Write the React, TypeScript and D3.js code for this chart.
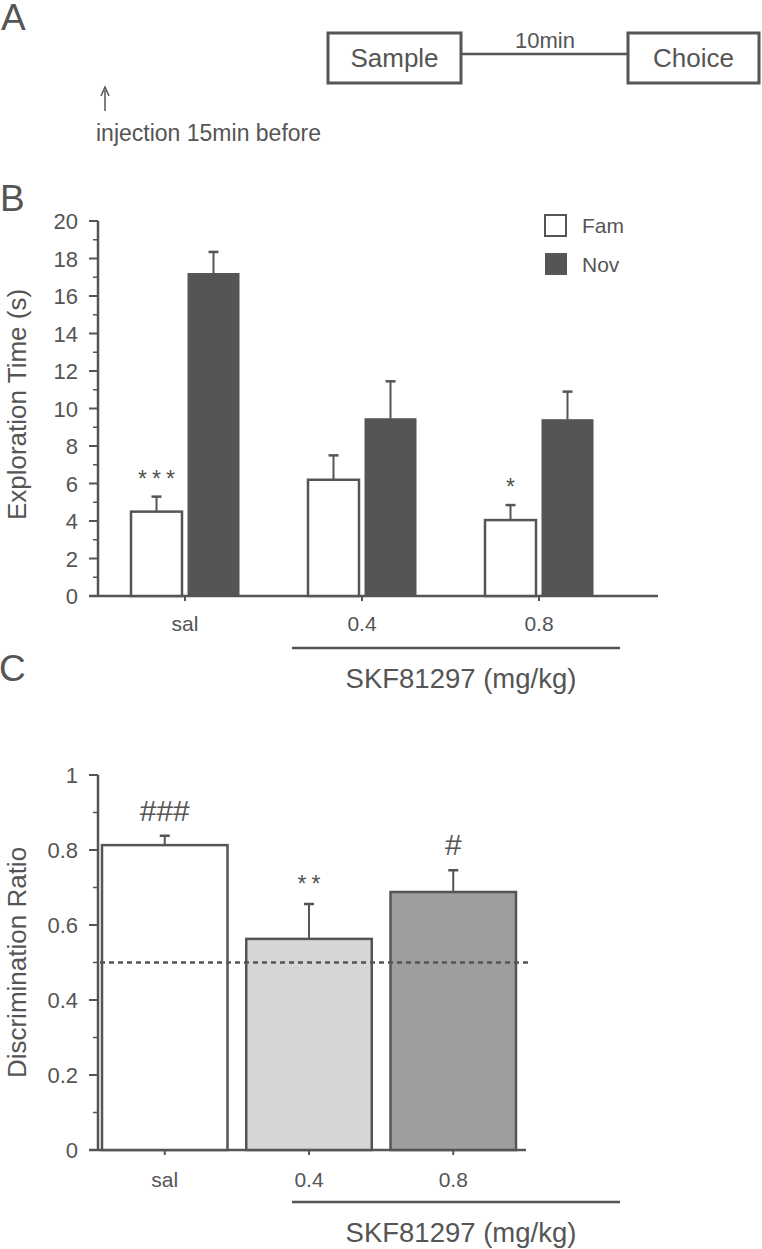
import React from "react";
import * as d3 from "d3";

// Panel B data
const groupsB = ["sal", "0.4", "0.8"];
const famMean = [4.5, 6.2, 4.05];
const famErr = [0.8, 1.3, 0.8];
const novMean = [17.2, 9.45, 9.4];
const novErr = [1.15, 2.0, 1.5];
const starsB = ["***", "", "*"];
const ticksB = [0, 2, 4, 6, 8, 10, 12, 14, 16, 18, 20];
const minorB = [1, 3, 5, 7, 9, 11, 13, 15, 17, 19];

// Panel C data
const groupsC = ["sal", "0.4", "0.8"];
const ratioMean = [0.813, 0.563, 0.688];
const ratioErr = [0.025, 0.093, 0.058];
const ratioFill = ["#ffffff", "#d6d6d6", "#9e9e9e"];
const marksC = ["###", "**", "#"];
const ticksC = [0, 0.2, 0.4, 0.6, 0.8, 1];
const minorC = [0.1, 0.3, 0.5, 0.7, 0.9];

const INK = "#555555";
const FONT = "'Liberation Sans', Arial, Helvetica, sans-serif";

export default function App() {
  const W = 762;
  const H = 1249;

  // Panel B scales
  const axB = 98;
  const yB = d3.scaleLinear().domain([0, 20]).range([596, 221]);
  const xB = d3.scalePoint<string>().domain(groupsB).range([185, 539]);
  const bwB = 51;
  const gapB = 3;

  // Panel C scales
  const axC = 98;
  const yC = d3.scaleLinear().domain([0, 1]).range([1150, 775]);
  const xC = d3.scaleBand<string>().domain(groupsC).range([102, 516]).paddingInner(0.13).paddingOuter(0);

  const errBar = (cx: number, y0: number, y1: number, key: string) => (
    <g key={key}>
      <line x1={cx} x2={cx} y1={y0} y2={y1} stroke={INK} strokeWidth={2} />
      <line x1={cx - 5} x2={cx + 5} y1={y1} y2={y1} stroke={INK} strokeWidth={2.5} />
    </g>
  );

  return (
    <svg width={W} height={H} style={{ position: "absolute", left: 0, top: 0, background: "#fff" }} fontFamily={FONT}>
      {/* Panel A */}
      <text x={1} y={30} fontSize={37} fill={INK}>A</text>
      <rect x={328} y={33} width={133} height={50} fill="none" stroke={INK} strokeWidth={3} />
      <text x={394.5} y={67} fontSize={26} fill={INK} textAnchor="middle">Sample</text>
      <line x1={461} x2={628} y1={54} y2={54} stroke={INK} strokeWidth={2.5} />
      <text x={545} y={48} fontSize={22} fill={INK} textAnchor="middle">10min</text>
      <rect x={628} y={33} width={131} height={50} fill="none" stroke={INK} strokeWidth={3} />
      <text x={693.5} y={67} fontSize={26} fill={INK} textAnchor="middle">Choice</text>
      <line x1={105} x2={105} y1={90} y2={111} stroke={INK} strokeWidth={1.5} />
      <path d="M101,96 L105,87 L109,96" fill="none" stroke={INK} strokeWidth={1.5} />
      <text x={96} y={141} fontSize={23} fill={INK}>injection 15min before</text>

      {/* Panel B */}
      <text x={0} y={211} fontSize={37} fill={INK}>B</text>
      <line x1={axB} x2={axB} y1={yB(20)} y2={yB(0)} stroke={INK} strokeWidth={2.5} />
      <line x1={89} x2={658} y1={yB(0)} y2={yB(0)} stroke={INK} strokeWidth={2.5} />
      {ticksB.map((t) => (
        <g key={"tb" + t}>
          <line x1={89} x2={axB} y1={yB(t)} y2={yB(t)} stroke={INK} strokeWidth={2} />
          <text x={78} y={yB(t) + 8} fontSize={22} fill={INK} textAnchor="end">{t}</text>
        </g>
      ))}
      {minorB.map((t) => (
        <line key={"mb" + t} x1={93} x2={axB} y1={yB(t)} y2={yB(t)} stroke={INK} strokeWidth={1.5} />
      ))}
      <text transform={`translate(26,${yB(10) - 4}) rotate(-90)`} fontSize={26} fill={INK} textAnchor="middle">Exploration Time (s)</text>
      {groupsB.map((g, i) => {
        const cx = xB(g)!;
        const fx = cx - gapB - bwB;
        const nx = cx + gapB;
        return (
          <g key={"gb" + g}>
            <line x1={cx} x2={cx} y1={yB(0)} y2={yB(0) + 5} stroke={INK} strokeWidth={2} />
            <rect x={fx} y={yB(famMean[i])} width={bwB} height={yB(0) - yB(famMean[i])} fill="#fff" stroke={INK} strokeWidth={2.5} />
            {errBar(fx + bwB / 2, yB(famMean[i]), yB(famMean[i] + famErr[i]), "fe" + i)}
            <rect x={nx} y={yB(novMean[i])} width={bwB} height={yB(0) - yB(novMean[i])} fill={INK} stroke={INK} strokeWidth={1} />
            {errBar(nx + bwB / 2, yB(novMean[i]), yB(novMean[i] + novErr[i]), "ne" + i)}
            {starsB[i] && (
              <text x={fx + bwB / 2 + 2.5} y={yB(famMean[i] + famErr[i]) - 10} fontSize={23} fill={INK} textAnchor="middle" letterSpacing={5}>{starsB[i]}</text>
            )}
            <text x={cx} y={631} fontSize={21} fill={INK} textAnchor="middle">{g}</text>
          </g>
        );
      })}
      <line x1={292} x2={620} y1={648} y2={648} stroke={INK} strokeWidth={2.5} />
      <text x={461} y={688} fontSize={27.5} fill={INK} textAnchor="middle">SKF81297 (mg/kg)</text>
      {/* Legend */}
      <rect x={545} y={215} width={21} height={21} fill="#fff" stroke={INK} strokeWidth={2} />
      <text x={582} y={233} fontSize={21} fill={INK}>Fam</text>
      <rect x={545} y={253} width={22} height={22} fill={INK} />
      <text x={582} y={272} fontSize={21} fill={INK}>Nov</text>

      {/* Panel C */}
      <text x={-1} y={681} fontSize={37} fill={INK}>C</text>
      <line x1={axC} x2={axC} y1={yC(1)} y2={yC(0)} stroke={INK} strokeWidth={2.5} />
      <line x1={89} x2={526} y1={yC(0)} y2={yC(0)} stroke={INK} strokeWidth={2.5} />
      {ticksC.map((t) => (
        <g key={"tc" + t}>
          <line x1={89} x2={axC} y1={yC(t)} y2={yC(t)} stroke={INK} strokeWidth={2} />
          <text x={78} y={yC(t) + 8} fontSize={22} fill={INK} textAnchor="end">{t}</text>
        </g>
      ))}
      {minorC.map((t) => (
        <line key={"mc" + t} x1={93} x2={axC} y1={yC(t)} y2={yC(t)} stroke={INK} strokeWidth={1.5} />
      ))}
      <text transform={`translate(26,${yC(0.5)}) rotate(-90)`} fontSize={26} fill={INK} textAnchor="middle">Discrimination Ratio</text>
      {groupsC.map((g, i) => {
        const x0 = xC(g)!;
        const bw = xC.bandwidth();
        const cx = x0 + bw / 2;
        const errTop = yC(ratioMean[i] + ratioErr[i]);
        const isHash = marksC[i].startsWith("#");
        return (
          <g key={"gc" + g}>
            <line x1={cx} x2={cx} y1={yC(0)} y2={yC(0) + 5} stroke={INK} strokeWidth={2} />
            <rect x={x0} y={yC(ratioMean[i])} width={bw} height={yC(0) - yC(ratioMean[i])} fill={ratioFill[i]} stroke={INK} strokeWidth={2.5} />
            {errBar(cx, yC(ratioMean[i]), errTop, "ce" + i)}
            <text x={isHash ? cx : cx + 2.5} y={errTop - (isHash ? 15 : 12)} fontSize={isHash ? 30 : 23} fill={INK} textAnchor="middle" letterSpacing={isHash ? 0 : 5}>{marksC[i]}</text>
            <text x={cx} y={1187} fontSize={21} fill={INK} textAnchor="middle">{g}</text>
          </g>
        );
      })}
      <line x1={100} x2={531} y1={yC(0.5)} y2={yC(0.5)} stroke={INK} strokeWidth={2.5} strokeDasharray="5,4" />
      <line x1={292} x2={620} y1={1202} y2={1202} stroke={INK} strokeWidth={2.5} />
      <text x={461} y={1242} fontSize={27.5} fill={INK} textAnchor="middle">SKF81297 (mg/kg)</text>
    </svg>
  );
}
